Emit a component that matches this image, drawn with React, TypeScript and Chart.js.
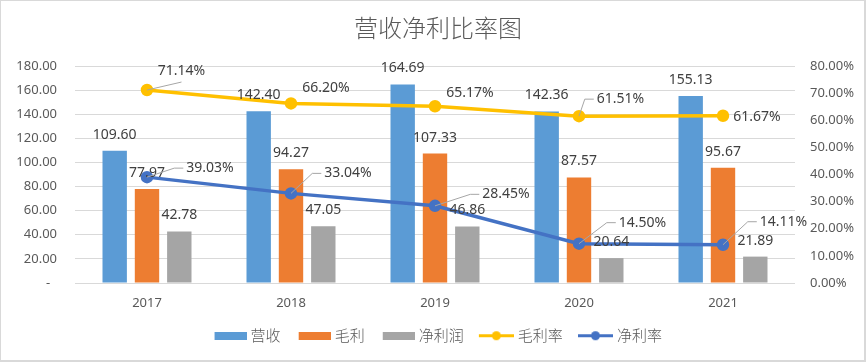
import React, { useEffect, useRef } from "react";
import { Chart, registerables } from "chart.js";

Chart.register(...registerables);

// ---------- data ----------
const categories = ["2017", "2018", "2019", "2020", "2021"];
const revenue = [109.6, 142.4, 164.69, 142.36, 155.13];
const grossProfit = [77.97, 94.27, 107.33, 87.57, 95.67];
const netProfit = [42.78, 47.05, 46.86, 20.64, 21.89];
const grossMargin = [71.14, 66.2, 65.17, 61.51, 61.67];
const netMargin = [39.03, 33.04, 28.45, 14.5, 14.11];
const seriesNames = ["营收", "毛利", "净利润", "毛利率", "净利率"];
const chartTitle = "营收净利比率图";
const leftAxisRange = [0, 180, 20];
const rightAxisRange = [0, 80, 10];

// ---------- styles ----------
const NUM_FONT = "'Noto Sans', 'Noto Sans CJK SC', sans-serif";
const CJK_FONT = "'Noto Sans CJK SC', 'Noto Sans', sans-serif";
const COLORS = ["#5B9BD5", "#ED7D31", "#A5A5A5", "#FFC000", "#4472C4"];
const AXIS_TEXT = "#595959";
const LABEL_TEXT = "#404040";
const GRID = "#D9D9D9";
const LEADER = "#A6A6A6";

type Placement = { dx: number; dy: number; leader: "none" | "left" | "bottom" };
// label placement (text centre relative to the point) for the two rate series
const placements: Record<number, Placement[]> = {
  3: [
    { dx: 34.5, dy: -19, leader: "bottom" },
    { dx: 35, dy: -15.7, leader: "none" },
    { dx: 35, dy: -13, leader: "none" },
    { dx: 41.5, dy: -17, leader: "left" },
    { dx: 34, dy: 1, leader: "none" },
  ],
  4: [
    { dx: 63, dy: -9, leader: "left" },
    { dx: 57, dy: -20, leader: "left" },
    { dx: 71, dy: -11.5, leader: "left" },
    { dx: 63.5, dy: -21, leader: "left" },
    { dx: 60.5, dy: -23, leader: "left" },
  ],
};

const valueLabels = {
  id: "valueLabels",
  afterDatasetsDraw(chart: any) {
    const ctx = chart.ctx as CanvasRenderingContext2D;
    ctx.save();
    ctx.font = `14px ${NUM_FONT}`;
    ctx.fillStyle = LABEL_TEXT;
    ctx.textAlign = "center";
    ctx.textBaseline = "middle";
    chart.data.datasets.forEach((ds: any, di: number) => {
      const meta = chart.getDatasetMeta(di);
      if (!chart.isDatasetVisible(di)) return;
      meta.data.forEach((el: any, i: number) => {
        const v = ds.data[i] as number;
        if (ds.type === "bar") {
          ctx.fillText(v.toFixed(2), el.x, el.y - 16);
        } else {
          const p = placements[di][i];
          const text = v.toFixed(2) + "%";
          const cx = el.x + p.dx;
          const cy = el.y + p.dy;
          const w = ctx.measureText(text).width;
          const tl = cx - w / 2;
          ctx.strokeStyle = LEADER;
          ctx.lineWidth = 1;
          if (p.leader === "left") {
            ctx.beginPath();
            ctx.moveTo(el.x, el.y);
            ctx.lineTo(tl - 12, cy);
            ctx.lineTo(tl - 3, cy);
            ctx.stroke();
          } else if (p.leader === "bottom") {
            ctx.beginPath();
            ctx.moveTo(el.x, el.y);
            ctx.lineTo(cx, cy + 11);
            ctx.stroke();
          }
          ctx.fillText(text, cx, cy);
        }
      });
    });
    ctx.restore();
  },
};

// legend symbol images: content sits at the right edge of a 36px-wide canvas
function boxImage(color: string) {
  const c = document.createElement("canvas");
  c.width = 36;
  c.height = 8;
  const g = c.getContext("2d")!;
  g.fillStyle = color;
  g.fillRect(4, 0, 32, 8);
  return c;
}

function lineImage(color: string) {
  const c = document.createElement("canvas");
  c.width = 36;
  c.height = 11;
  const g = c.getContext("2d")!;
  g.strokeStyle = color;
  g.lineWidth = 3;
  g.beginPath();
  g.moveTo(1, 5.5);
  g.lineTo(36, 5.5);
  g.stroke();
  g.fillStyle = color;
  g.beginPath();
  g.arc(18.5, 5.5, 4.5, 0, Math.PI * 2);
  g.fill();
  return c;
}

export default function App() {
  const ref = useRef<HTMLCanvasElement>(null);

  useEffect(() => {
    if (!ref.current) return;
    const images = [
      boxImage(COLORS[0]),
      boxImage(COLORS[1]),
      boxImage(COLORS[2]),
      lineImage(COLORS[3]),
      lineImage(COLORS[4]),
    ];
    const barBase = {
      type: "bar" as const,
      yAxisID: "y",
      order: 2,
      categoryPercentage: 0.673,
      barPercentage: 0.755,
      borderWidth: 0,
    };
    const lineBase = {
      type: "line" as const,
      yAxisID: "y1",
      order: 1,
      borderWidth: 3.5,
      pointRadius: 4.5,
      pointHoverRadius: 4.5,
      tension: 0,
      fill: false,
    };
    const chart = new Chart(ref.current, {
      data: {
        labels: categories,
        datasets: [
          { ...barBase, label: seriesNames[0], data: revenue, backgroundColor: COLORS[0] },
          { ...barBase, label: seriesNames[1], data: grossProfit, backgroundColor: COLORS[1] },
          { ...barBase, label: seriesNames[2], data: netProfit, backgroundColor: COLORS[2] },
          {
            ...lineBase,
            label: seriesNames[3],
            data: grossMargin,
            borderColor: COLORS[3],
            backgroundColor: COLORS[3],
            pointBackgroundColor: COLORS[3],
            pointBorderColor: COLORS[3],
          },
          {
            ...lineBase,
            label: seriesNames[4],
            data: netMargin,
            borderColor: COLORS[4],
            backgroundColor: COLORS[4],
            pointBackgroundColor: COLORS[4],
            pointBorderColor: COLORS[4],
          },
        ],
      } as any,
      options: {
        animation: false,
        responsive: true,
        maintainAspectRatio: false,
        layout: { padding: { left: 10, right: 0, top: 0, bottom: 8.8 } },
        plugins: {
          tooltip: { enabled: false },
          title: {
            display: true,
            text: chartTitle,
            color: AXIS_TEXT,
            font: { family: CJK_FONT, size: 24, weight: "300" as any },
            padding: { top: 13, bottom: 24.2 },
          },
          legend: {
            display: true,
            position: "bottom",
            labels: {
              usePointStyle: true,
              pointStyleWidth: 29,
              padding: 17.6,
              color: AXIS_TEXT,
              font: { family: CJK_FONT, size: 15, weight: "300" as any },
              generateLabels: (c: any) =>
                c.data.datasets.map((ds: any, i: number) => ({
                  text: ds.label,
                  fillStyle: COLORS[i],
                  strokeStyle: COLORS[i],
                  lineWidth: 0,
                  hidden: !c.isDatasetVisible(i),
                  datasetIndex: i,
                  pointStyle: images[i],
                  fontColor: AXIS_TEXT,
                })),
            },
          },
        },
        scales: {
          x: {
            type: "category",
            grid: { display: false, drawTicks: false },
            border: { display: false },
            ticks: {
              color: AXIS_TEXT,
              font: { family: NUM_FONT, size: 13 },
              padding: 12,
              maxRotation: 0,
            },
            afterFit: (s: any) => {
              s.height = 27.6;
            },
          },
          y: {
            type: "linear",
            position: "left",
            min: leftAxisRange[0],
            max: leftAxisRange[1],
            grid: { color: GRID, lineWidth: 1, drawTicks: false },
            border: { display: false },
            ticks: {
              stepSize: leftAxisRange[2],
              color: AXIS_TEXT,
              font: { family: NUM_FONT, size: 13 },
              padding: 18,
              callback: (v: any) => (Number(v) === 0 ? "-  " : Number(v).toFixed(2)),
            },
            afterFit: (s: any) => {
              s.width = 65;
            },
          },
          y1: {
            type: "linear",
            position: "right",
            min: rightAxisRange[0],
            max: rightAxisRange[1],
            grid: { display: false, drawTicks: false },
            border: { display: false },
            ticks: {
              stepSize: rightAxisRange[2],
              color: AXIS_TEXT,
              font: { family: NUM_FONT, size: 13 },
              padding: 15,
              callback: (v: any) => Number(v).toFixed(2) + "%",
            },
            afterFit: (s: any) => {
              s.width = 71;
            },
          },
        },
      } as any,
      plugins: [valueLabels],
    });
    return () => chart.destroy();
  }, []);

  return (
    <div style={{ position: "fixed", left: 0, top: 0, width: 866, height: 362, background: "#fff" }}>
      <canvas ref={ref} />
      <div
        style={{
          position: "absolute",
          left: 0,
          top: 0,
          width: 866,
          height: 362,
          boxSizing: "border-box",
          border: "1px solid #D9D9D9",
          borderRightWidth: 2,
          borderBottomWidth: 2,
          pointerEvents: "none",
        }}
      />
    </div>
  );
}
